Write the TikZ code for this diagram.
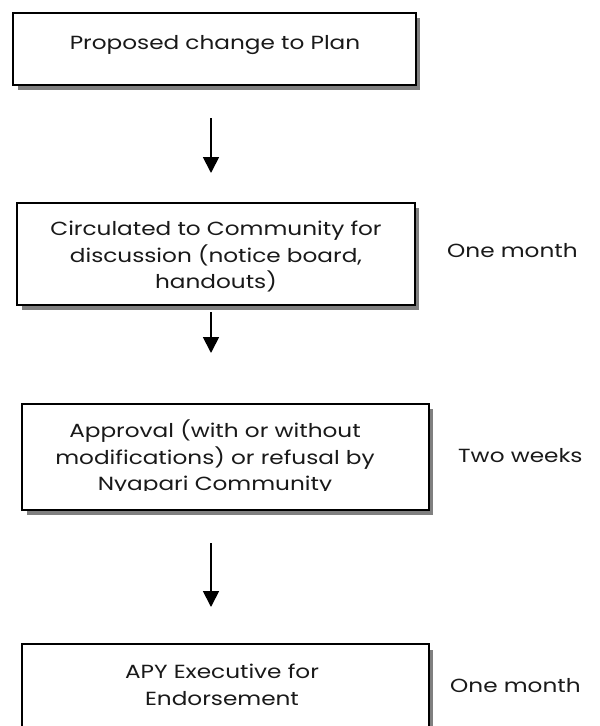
\documentclass[tikz,border=0pt]{standalone}
\usepackage{fontspec}
\setmainfont{Poppins}[FakeStretch=1.22]
\usetikzlibrary{arrows.meta}
\tikzset{
  boxshape/.style={draw=black, line width=2pt, fill=white},
  shadowshape/.style={fill=black!50, draw=none},
  txt/.style={font=\fontsize{19}{26.5}\selectfont, align=center, text=black!90, inner sep=0pt},
  side/.style={font=\fontsize{19}{26.5}\selectfont, anchor=west, text=black!90, inner sep=0pt},
  arr/.style={line width=1.8pt, -{Triangle[length=16pt,width=16pt]}}
}
\begin{document}
\begin{tikzpicture}[x=1pt,y=-1pt]
\useasboundingbox (0,0) rectangle (600,726);
% box 1
\fill[shadowshape] (18,18) rectangle (420,90);
\draw[boxshape] (13,13) rectangle (416,85);
\node[txt] (t1) at (215,45) {Proposed change to Plan};
% box 2
\fill[shadowshape] (22,208) rectangle (419,310);
\draw[boxshape] (17,203) rectangle (415,305);
\node[txt] (t2) at (216,257) {Circulated to Community for\\discussion (notice board,\\handouts)};
\node[side] (l2) at (447,251) {One month};
% box 3
\fill[shadowshape] (27,409) rectangle (433,515);
\draw[boxshape] (22,404) rectangle (429,510);
\begin{scope}
\clip (22,404) rectangle (429,490);
\node[txt] (t3) at (215,458) {Approval (with or without\\modifications) or refusal by\\Nyapari Community};
\end{scope}
\node[side] (l3) at (458,456) {Two weeks};
\node[side] (l4) at (450,686) {One month};
% box 4
\fill[shadowshape] (27,650) rectangle (433,760);
\draw[boxshape] (22,644) rectangle (429,760);
\node[txt] (t4) at (222,685) {APY Executive for\\Endorsement};
% arrows
\coordinate (a1s) at (211,118);
\coordinate (a1e) at (211,173);
\coordinate (a2s) at (211,312);
\coordinate (a2e) at (211,353);
\coordinate (a3s) at (211,543);
\coordinate (a3e) at (211,607);
\draw[arr] (a1s) -- (a1e);
\draw[arr] (a2s) -- (a2e);
\draw[arr] (a3s) -- (a3e);
\end{tikzpicture}
\end{document}
